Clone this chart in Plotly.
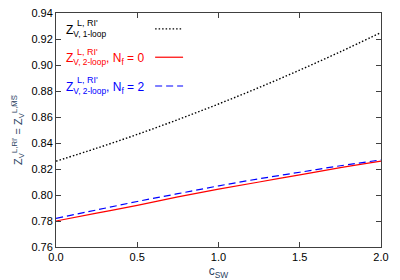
import plotly.graph_objects as go

c_sw = [0.0, 0.25, 0.5, 0.75, 1.0, 1.25, 1.5, 1.75, 2.0]
z_1loop = [0.826, 0.836, 0.8466, 0.858, 0.870, 0.8827, 0.8961, 0.9102, 0.925]
z_2loop_nf0 = [0.780, 0.786, 0.792, 0.7985, 0.8045, 0.810, 0.8155, 0.821, 0.826]
z_2loop_nf2 = [0.782, 0.7885, 0.795, 0.801, 0.807, 0.8125, 0.8175, 0.8225, 0.827]

x_ticks = [0.0, 0.5, 1.0, 1.5, 2.0]
x_ticklabels = ["0.0", "0.5", "1.0", "1.5", "2.0"]
y_ticks = [0.76, 0.78, 0.80, 0.82, 0.84, 0.86, 0.88, 0.90, 0.92, 0.94]
y_ticklabels = ["0.76", "0.78", "0.80", "0.82", "0.84", "0.86", "0.88", "0.90", "0.92", "0.94"]

series = [
    (z_1loop, "#000000", "1.5px,2px", 1.4, "V, 1-loop", ""),
    (z_2loop_nf0, "#ff0000", "solid", 1.2, "V, 2-loop", ", N<sub>f</sub> = 0"),
    (z_2loop_nf2, "#0000ff", "7px,4px", 1.2, "V, 2-loop", ", N<sub>f</sub> = 2"),
]

FONT = "Liberation Sans, Arial, sans-serif"
fig = go.Figure()
for ys, col, dash, w, sub, tail in series:
    fig.add_trace(go.Scatter(x=c_sw, y=ys, mode="lines", line=dict(color=col, dash=dash, width=w),
                             line_shape="spline", showlegend=False))

# legend (text on left, sample on right, gnuplot style)
leg_y = [0.932, 0.811, 0.688]
for (ys, col, dash, w, sub, tail), yy in zip(series, leg_y):
    fig.add_annotation(xref="paper", yref="paper", x=0.024, y=yy - 0.008, xanchor="left", yanchor="middle",
                       text="Z<sub>" + sub + "</sub>" + tail, showarrow=False,
                       font=dict(family=FONT, size=12, color=col))
    fig.add_annotation(xref="paper", yref="paper", x=0.057, y=yy + 0.024, xanchor="left", yanchor="middle",
                       text="L, RI'", showarrow=False, font=dict(family=FONT, size=9, color=col))
    fig.add_shape(type="line", xref="paper", yref="paper", x0=0.305, x1=0.391, y0=yy, y1=yy,
                  line=dict(color=col, dash=dash, width=w))

axis_common = dict(showline=True, linecolor="#404040", linewidth=1, mirror="ticks", ticks="inside",
                   ticklen=5, tickcolor="#404040", showgrid=False, zeroline=False, automargin=False,
                   tickfont=dict(family=FONT, size=11, color="#000000"))
fig.update_xaxes(range=[0, 2], tickvals=x_ticks, ticktext=x_ticklabels,
                 title=dict(text="c<sub>SW</sub>", font=dict(family=FONT, size=12), standoff=4), **axis_common)
fig.update_yaxes(range=[0.76, 0.94], tickvals=y_ticks, ticktext=y_ticklabels,
                 title=dict(text="Z<sub>V</sub><sup>L,RI'</sup> = Z<sub>V</sub><sup>L,M\u0305S\u0305</sup>",
                            font=dict(family=FONT, size=11), standoff=6), **axis_common)
fig.update_layout(width=400, height=280, margin=dict(l=56, r=19, t=13, b=33, autoexpand=False),
                  plot_bgcolor="white", paper_bgcolor="white", font=dict(family=FONT))
fig.write_html("out.html", config={"displayModeBar": False},
               post_script="document.body.style.margin='0';document.body.style.padding='0';")
